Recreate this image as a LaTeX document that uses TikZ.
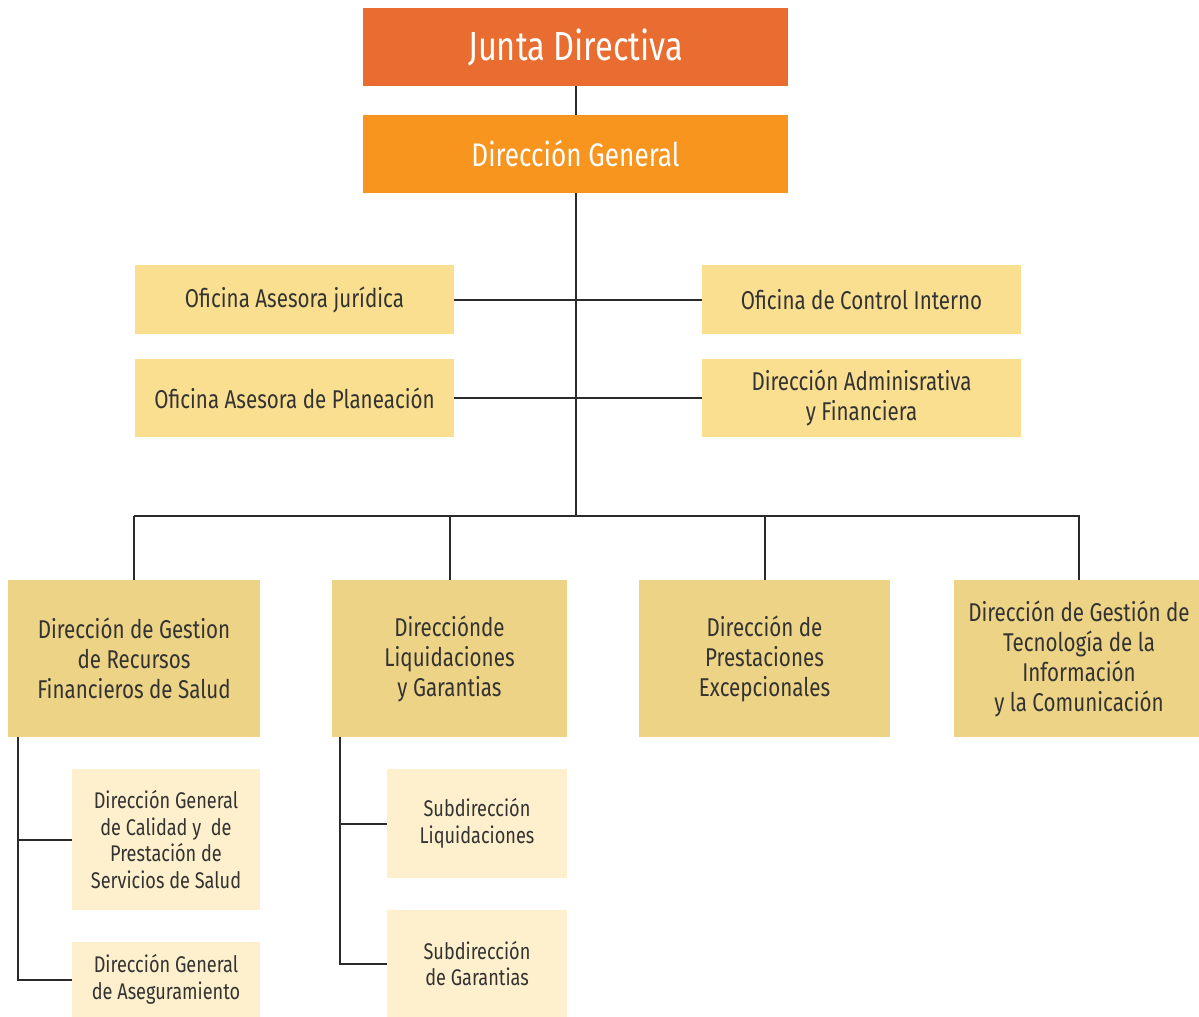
\documentclass[tikz,border=0pt]{standalone}
\usepackage{fontspec}
\setmainfont{Fira Sans}[FakeStretch=0.8]
\definecolor{cJD}{HTML}{E96D30}
\definecolor{cDG}{HTML}{F7951F}
\definecolor{cL2}{HTML}{F9DF8F}
\definecolor{cL3}{HTML}{EDD385}
\definecolor{cL4}{HTML}{FEF0CC}
\definecolor{cTx}{HTML}{333333}
\definecolor{cLn}{HTML}{2A2A2A}
\begin{document}
\begin{tikzpicture}[x=0.75pt,y=-0.75pt,
  bx/.style 2 args={minimum width=#1*0.75pt, minimum height=#2*0.75pt, inner sep=0pt, align=center, text=cTx},
  top/.style={fill=#1, text=white, font=\fontsize{24.5}{28}\selectfont},
  lvtwo/.style={fill=cL2, font=\fontsize{19.3}{22.5}\selectfont},
  lvthree/.style={fill=cL3, font=\fontsize{19.3}{22.5}\selectfont},
  lvfour/.style={fill=cL4, font=\fontsize{17}{20}\selectfont},
  conn/.style={draw=cLn, line width=1.5pt}]
\useasboundingbox (0,0) rectangle (1199,1017);
\node[bx={425}{78}, top=cJD, font=\fontsize{30.5}{34}\selectfont] (JD) at (575.5,47) {Junta Directiva};
\node[bx={425}{78}, top=cDG] (DG) at (575.5,154) {Dirección General};
\node[bx={319}{69}, lvtwo] (OAJ) at (294.5,299.5) {Oficina Asesora jurídica};
\node[bx={319}{69}, lvtwo] (OCI) at (861.5,299.5) {Oficina de Control Interno};
\node[bx={319}{78}, lvtwo] (OAP) at (294.5,398) {Oficina Asesora de Planeación};
\node[bx={319}{78}, lvtwo] (DAF) at (861.5,398) {Dirección Adminisrativa\\y Financiera};
\node[bx={252}{157}, lvthree] (B1) at (134,658.5) {Dirección de Gestion\\de Recursos\\Financieros de Salud};
\node[bx={235}{157}, lvthree] (B2) at (449.5,658.5) {Direcciónde\\Liquidaciones\\y Garantias};
\node[bx={251}{157}, lvthree] (B3) at (764.5,658.5) {Dirección de\\Prestaciones\\Excepcionales};
\node[bx={250}{157}, lvthree] (B4) at (1079,658.5) {Dirección de Gestión de\\Tecnología de la\\Información\\y la Comunicación};
\node[bx={188}{141}, lvfour] (SA) at (166,839.5) {Dirección General\\de Calidad y~ de\\Prestación de\\Servicios de Salud};
\node[bx={188}{75}, lvfour] (SB) at (166,979.5) {Dirección General\\de Aseguramiento};
\node[bx={180}{109}, lvfour] (SC) at (477,823.5) {Subdirección\\Liquidaciones};
\node[bx={180}{107}, lvfour] (SD) at (477,963.5) {Subdirección\\de Garantias};
\coordinate (busL) at (134,516);
\coordinate (busR) at (1080,516);
\coordinate (s1) at (18,737);
\coordinate (s2) at (340,737);
\draw[conn] (JD) -- (DG);
\draw[conn] (DG.south) -- (DG.south |- busL);
\draw[conn] (OAJ.east) -- (OCI.west);
\draw[conn] (OAP.east) -- (DAF.west);
\draw[conn] (busL) -- (busR);
\draw[conn] (B1.north) -- (B1.north |- busL);
\draw[conn] (B2.north) -- (B2.north |- busL);
\draw[conn] (B3.north) -- (B3.north |- busL);
\draw[conn] (B4.north) -- (B4.north |- busL);
\draw[conn] (s1) |- (SB.west);
\draw[conn] (SA.west) -- (SA.west -| s1);
\draw[conn] (s2) |- (SD.west);
\draw[conn] (SC.west) -- (SC.west -| s2);
\end{tikzpicture}
\end{document}
